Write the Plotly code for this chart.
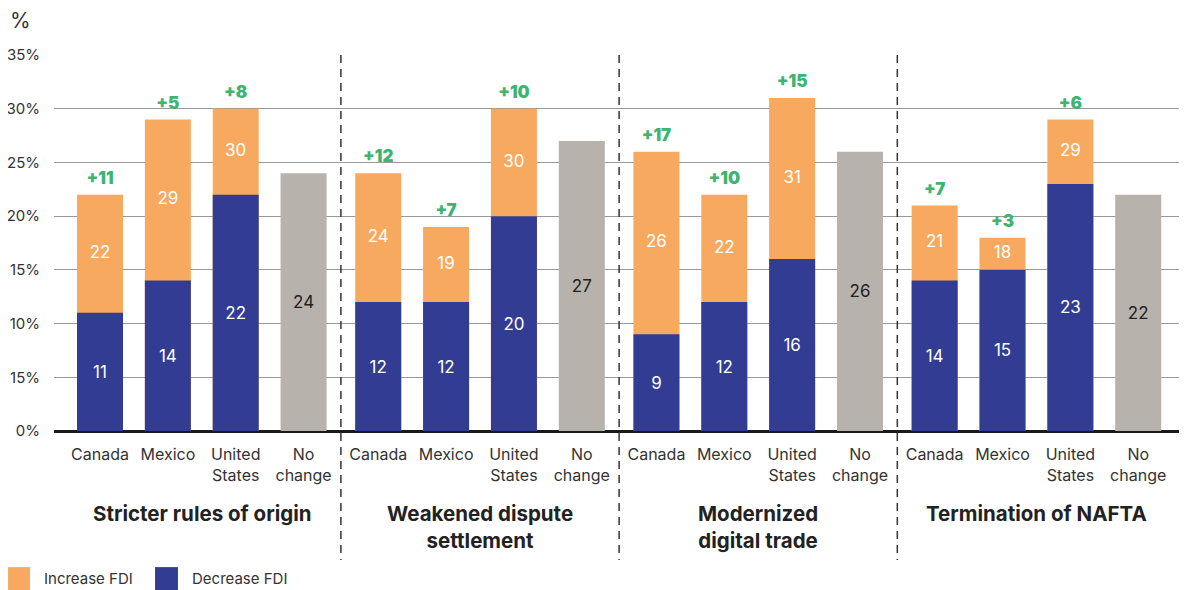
import plotly.graph_objects as go

groups = ["Stricter rules of origin", "Weakened dispute<br>settlement",
          "Modernized<br>digital trade", "Termination of NAFTA"]
countries = ["Canada", "Mexico", "United<br>States"]
increase = [[22, 29, 30], [24, 19, 30], [26, 22, 31], [21, 18, 29]]
decrease = [[11, 14, 22], [12, 12, 20], [9, 12, 16], [14, 15, 23]]
net_labels = [["+11", "+5", "+8"], ["+12", "+7", "+10"], ["+17", "+10", "+15"], ["+7", "+3", "+6"]]
no_change = [24, 27, 26, 22]
ytick_vals = [0, 5, 10, 15, 20, 25, 30, 35]
ytick_text = ["0%", "15%", "10%", "15%", "20%", "25%", "30%", "35%"]

ORANGE = "#F7A960"
BLUE = "#323C93"
GRAY = "#B8B2AD"
GREEN = "#3DB470"
DARK = "#222222"
FONT = "Inter"

GSTEP = 4.1
cx, inc_v, dec_v, net_t = [], [], [], []
nx, tickx, tickt = [], [], []
for g in range(len(groups)):
    for i in range(3):
        x = g * GSTEP + i
        cx.append(x)
        inc_v.append(increase[g][i])
        dec_v.append(decrease[g][i])
        net_t.append(net_labels[g][i])
        tickx.append(x)
        tickt.append(countries[i])
    x = g * GSTEP + 3
    nx.append(x)
    tickx.append(x)
    tickt.append("No<br>change")

W = 0.678
fig = go.Figure()
fig.add_trace(go.Bar(x=cx, y=inc_v, width=W, marker=dict(color=ORANGE, line_width=0),
                     name="Increase FDI", showlegend=False, hoverinfo="skip"))
fig.add_trace(go.Bar(x=cx, y=dec_v, width=W, marker=dict(color=BLUE, line_width=0),
                     name="Decrease FDI", showlegend=False,
                     text=[str(v) for v in dec_v], textposition="inside",
                     insidetextanchor="middle",
                     textfont=dict(color="white", size=17, family=FONT)))
fig.add_trace(go.Bar(x=nx, y=no_change, width=W, marker=dict(color=GRAY, line_width=0),
                     name="No change", showlegend=False,
                     text=[str(v) for v in no_change], textposition="inside",
                     insidetextanchor="middle",
                     textfont=dict(color=DARK, size=17, family=FONT)))
# orange segment labels (centered in visible orange part)
fig.add_trace(go.Scatter(x=cx, y=[(a + b) / 2 for a, b in zip(inc_v, dec_v)],
                         mode="text", text=[str(v) for v in inc_v],
                         textfont=dict(color="white", size=17, family=FONT),
                         showlegend=False, hoverinfo="skip"))
# net labels above
fig.add_trace(go.Scatter(x=cx, y=[v + 0.6 for v in inc_v], mode="text", text=net_t,
                         textposition="top center",
                         textfont=dict(color=GREEN, size=17, family=FONT, weight=900),
                         showlegend=False, hoverinfo="skip"))

shapes = []
for g in range(1, len(groups)):
    xd = g * GSTEP - (GSTEP - 3) / 2
    shapes.append(dict(type="line", xref="x", yref="paper", x0=xd, x1=xd, y0=1.0, y1=-0.343,
                       line=dict(color="#333333", width=1.5, dash="8px,6px")))
# legend swatches
shapes.append(dict(type="rect", xref="paper", yref="paper", x0=-0.0407, x1=-0.0213,
                   y0=-0.362, y1=-0.423, fillcolor=ORANGE, line_width=0))
shapes.append(dict(type="rect", xref="paper", yref="paper", x0=0.0895, x1=0.1098,
                   y0=-0.362, y1=-0.423, fillcolor=BLUE, line_width=0))

annotations = []
for g, name in enumerate(groups):
    annotations.append(dict(x=g * GSTEP + 1.5, xref="x", y=-0.18, yref="paper",
                            text="<b>" + name + "</b>", showarrow=False, yanchor="top",
                            font=dict(size=20.5, color=DARK, family=FONT, weight=900),
                            align="center"))
annotations.append(dict(x=-0.041, xref="paper", y=1.093, yref="paper", text="%",
                        showarrow=False, xanchor="left", yanchor="middle",
                        font=dict(size=21, color="#333333", family=FONT)))
annotations.append(dict(x=-0.0106, xref="paper", y=-0.391, yref="paper", text="Increase FDI",
                        showarrow=False, xanchor="left", yanchor="middle",
                        font=dict(size=15, color="#333333", family=FONT)))
annotations.append(dict(x=0.1205, xref="paper", y=-0.391, yref="paper", text="Decrease FDI",
                        showarrow=False, xanchor="left", yanchor="middle",
                        font=dict(size=15, color="#333333", family=FONT)))

# page body has an 8px default margin; figure is sized/offset to fit the window
fig.update_layout(
    width=1179, height=582,
    margin=dict(l=46, r=4, t=47, b=159, autoexpand=False),
    barmode="overlay",
    plot_bgcolor="white", paper_bgcolor="white",
    font=dict(family=FONT, color="#333333"),
    shapes=shapes, annotations=annotations,
    xaxis=dict(range=[-0.678, 15.96], tickvals=tickx, ticktext=tickt,
               tickfont=dict(size=16, color="#333333", family=FONT),
               showgrid=False, zeroline=False, showline=False, ticks="",
               ticklabelstandoff=12, automargin=False),
    yaxis=dict(range=[0, 35], tickvals=ytick_vals, ticktext=ytick_text,
               tickfont=dict(size=15, color="#333333", family=FONT),
               showgrid=True, gridcolor="#999999", gridwidth=1,
               zeroline=True, zerolinecolor="#1a1a1a", zerolinewidth=3,
               showline=False, ticks="", ticklabelstandoff=13, automargin=False),
)

fig.write_html("out.html")
